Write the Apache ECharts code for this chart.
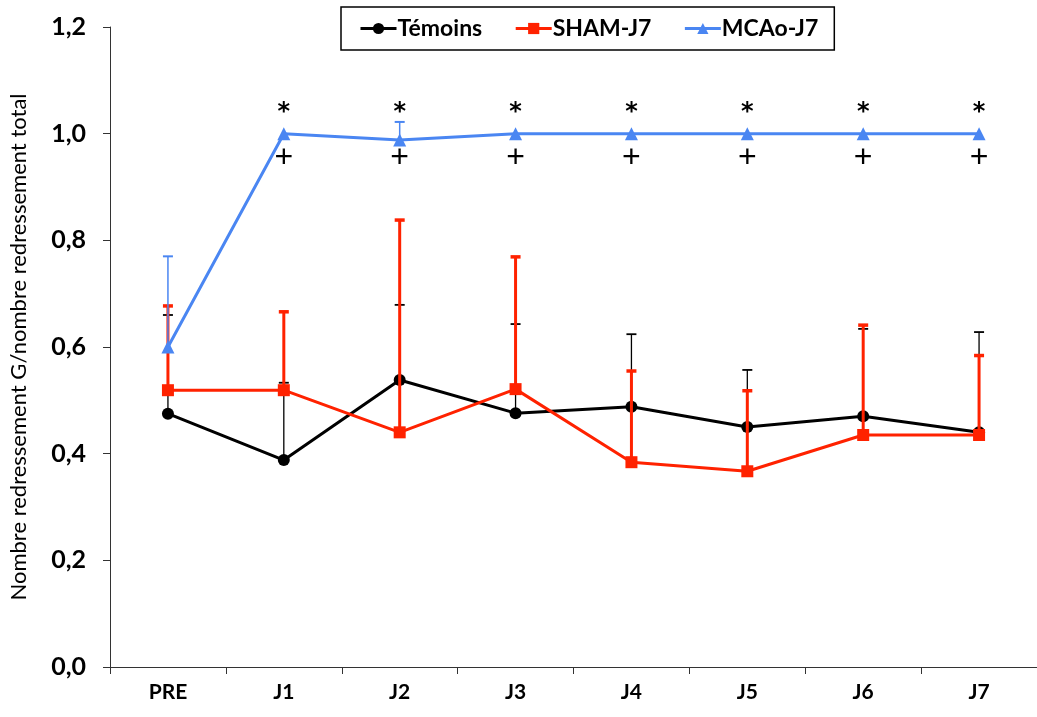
<!DOCTYPE html>
<html>
<head>
<meta charset="utf-8">
<script src="https://cdn.jsdelivr.net/npm/echarts@6/dist/echarts.min.js"></script>
<style>
  html, body { margin: 0; padding: 0; background: #fff; }
  #chart { width: 1037px; height: 717px; }
</style>
</head>
<body>
<div id="chart"></div>
<script>
// catégories (jours)
const categories = ['PRE', 'J1', 'J2', 'J3', 'J4', 'J5', 'J6', 'J7'];

// moyennes
const temoins = [0.475, 0.388, 0.538, 0.476, 0.488, 0.45, 0.47, 0.44];
const sham = [0.519, 0.519, 0.44, 0.521, 0.384, 0.367, 0.435, 0.435];
const mcao = [0.6, 1.0, 0.988, 1.0, 1.0, 1.0, 1.0, 1.0];

// bornes hautes des barres d'erreur
const temoinsUp = [0.66, 0.533, 0.679, 0.643, 0.624, 0.557, 0.634, 0.628];
const shamUp = [0.677, 0.666, 0.838, 0.769, 0.555, 0.518, 0.641, 0.584];
const mcaoUp = [0.77, null, 1.022, null, null, null, null, null];

// marques de significativité
const starMarks = [null, 1.04, 1.04, 1.04, 1.04, 1.04, 1.04, 1.04];
const plusMarks = [null, 0.954, 0.954, 0.954, 0.954, 0.954, 0.954, 0.954];

const BLACK = '#000000';
const RED = '#FF2200';
const BLUE = '#4A86F2';

function errorSeries(name, means, ups, color, width, z) {
  return {
    type: 'custom',
    name: name + '-err',
    z: z,
    silent: true,
    renderItem: function(params, api) {
      const x = api.value(0);
      const p0 = api.coord([x, api.value(1)]);
      const p1 = api.coord([x, api.value(2)]);
      const cap = 5;
      return {
        type: 'group',
        children: [
          { type: 'line', shape: { x1: p0[0], y1: p0[1], x2: p1[0], y2: p1[1] },
            style: { stroke: color, lineWidth: width } },
          { type: 'line', shape: { x1: p1[0] - cap, y1: p1[1], x2: p1[0] + cap, y2: p1[1] },
            style: { stroke: color, lineWidth: width + 0.5 } }
        ]
      };
    },
    data: means.map((m, i) => [i, m, ups[i]]).filter(d => d[2] !== null)
  };
}

function textSeries(name, values, text, font) {
  return {
    type: 'custom',
    name: name,
    z: 20,
    silent: true,
    renderItem: function(params, api) {
      const p = api.coord([api.value(0), api.value(1)]);
      return {
        type: 'text',
        x: p[0], y: p[1],
        style: {
          text: text, fill: '#000', font: font,
          align: 'center', verticalAlign: 'middle'
        }
      };
    },
    data: values.map((v, i) => [i, v]).filter(d => d[1] !== null)
  };
}

const chart = echarts.init(document.getElementById('chart'));

const option = {
  animation: false,
  backgroundColor: '#fff',
  grid: { left: 106, right: -8, top: 27, bottom: 50, containLabel: false },
  legend: {
    data: ['Témoins', 'SHAM-J7', 'MCAo-J7'],
    top: 7,
    left: 341,
    padding: [10, 16, 10, 18],
    itemGap: 32,
    itemWidth: 36,
    itemHeight: 14,
    borderColor: '#000',
    borderWidth: 1.5,
    lineStyle: { width: 3 },
    textStyle: { fontFamily: 'Lato', fontWeight: 'bold', fontSize: 23, color: '#000', padding: [0, 0, 0, -4] }
  },
  xAxis: {
    type: 'category',
    data: categories,
    boundaryGap: true,
    axisLine: { lineStyle: { color: '#333', width: 1 } },
    axisTick: { show: true, length: 7, lineStyle: { color: '#333' } },
    axisLabel: { margin: 15, fontFamily: 'Lato', fontWeight: 'bold', fontSize: 21, color: '#000' },
    splitLine: { show: false }
  },
  yAxis: {
    type: 'value',
    min: 0,
    max: 1.2,
    interval: 0.2,
    name: 'Nombre redressement G/nombre redressement total',
    nameLocation: 'middle',
    nameGap: 80,
    nameTextStyle: { fontFamily: 'Lato', fontSize: 22, color: '#000' },
    axisLine: { show: true, lineStyle: { color: '#333', width: 1 } },
    axisTick: { show: true, length: 7, lineStyle: { color: '#333' } },
    axisLabel: {
      margin: 24,
      fontFamily: 'Lato',
      fontWeight: 'bold',
      fontSize: 25,
      color: '#000',
      formatter: function(v) { return v.toFixed(1).replace('.', ','); }
    },
    splitLine: { show: false }
  },
  series: [
    errorSeries('Témoins', temoins, temoinsUp, BLACK, 1.3, 1),
    {
      name: 'Témoins', type: 'line', data: temoins, z: 2,
      symbol: 'circle', symbolSize: 12,
      lineStyle: { color: BLACK, width: 3 },
      itemStyle: { color: BLACK }
    },
    errorSeries('SHAM-J7', sham, shamUp, RED, 3, 3),
    {
      name: 'SHAM-J7', type: 'line', data: sham, z: 4,
      symbol: 'rect', symbolSize: 12,
      lineStyle: { color: RED, width: 3 },
      itemStyle: { color: RED }
    },
    errorSeries('MCAo-J7', mcao, mcaoUp, BLUE, 1.5, 5),
    {
      name: 'MCAo-J7', type: 'line', data: mcao, z: 6,
      symbol: 'triangle', symbolSize: 13,
      lineStyle: { color: BLUE, width: 3 },
      itemStyle: { color: BLUE }
    },
    textSeries('stars', starMarks, '*', 'bold 24px "DejaVu Sans"'),
    textSeries('plus', plusMarks, '+', 'normal 32px "Liberation Sans"')
  ]
};

chart.setOption(option);
</script>
</body>
</html>
